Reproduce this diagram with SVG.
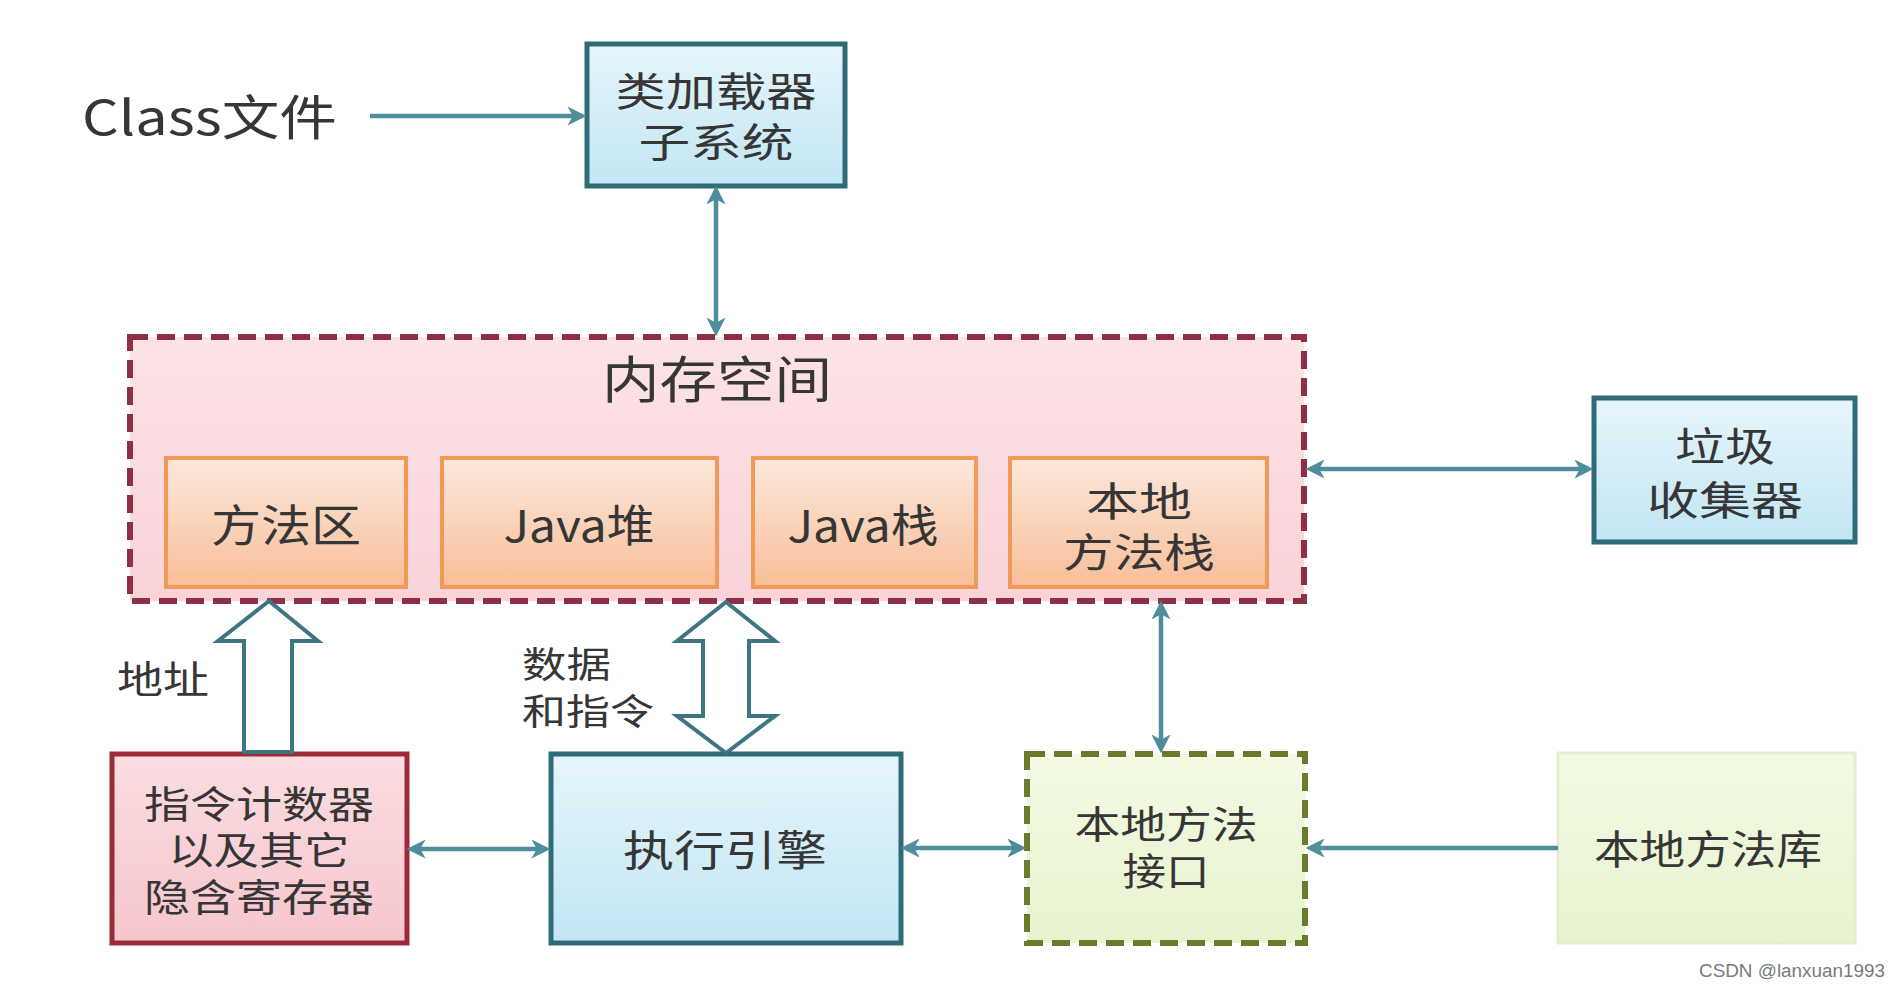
<svg xmlns="http://www.w3.org/2000/svg" width="1902" height="988" viewBox="0 0 1902 988">
<defs>
<linearGradient id="gBlue" x1="0" y1="0" x2="0" y2="1"><stop offset="0" stop-color="#E6F5FB"/><stop offset="1" stop-color="#C2E6F3"/></linearGradient>
<linearGradient id="gPink" x1="0" y1="0" x2="0" y2="1"><stop offset="0" stop-color="#FCE3E6"/><stop offset="1" stop-color="#F9D3D9"/></linearGradient>
<linearGradient id="gOrange" x1="0" y1="0" x2="0" y2="1"><stop offset="0" stop-color="#FCE8DC"/><stop offset="1" stop-color="#F8BE98"/></linearGradient>
<linearGradient id="gRed" x1="0" y1="0" x2="0" y2="1"><stop offset="0" stop-color="#FBDDE1"/><stop offset="1" stop-color="#F6C6CD"/></linearGradient>
<linearGradient id="gGreen" x1="0" y1="0" x2="0" y2="1"><stop offset="0" stop-color="#F3F9E4"/><stop offset="1" stop-color="#E7F3CF"/></linearGradient>
<marker id="ah" viewBox="0 0 14 14" refX="10" refY="7" markerWidth="19" markerHeight="19" markerUnits="userSpaceOnUse" orient="auto-start-reverse">
<path d="M0,0 L14,7 L0,14 L4,7 z" fill="#4E8E9C"/>
</marker>
<style>
.t{font-family:"Noto Sans CJK SC","Noto Sans",sans-serif;fill:#363636;text-anchor:middle}
.teal{fill:url(#gBlue);stroke:#2F6C78;stroke-width:5}
.inner{fill:url(#gOrange);stroke:#F19A58;stroke-width:4}
.conn{stroke:#4E8E9C;stroke-width:4.5;fill:none;marker-end:url(#ah)}
.both{marker-start:url(#ah)}
.hollow{fill:#FFFFFF;stroke:#3D7580;stroke-width:4;stroke-linejoin:miter}
</style>
</defs>
<rect width="1902" height="988" fill="#FFFFFF"/>

<g id="class-file">
<text class="t" x="82" y="135" font-size="48" style="text-anchor:start" textLength="255" lengthAdjust="spacingAndGlyphs">Class文件</text>
</g>

<g id="class-loader">
<rect class="teal" x="587" y="44" width="258" height="142"/>
<text class="t" x="716" y="106" font-size="40" textLength="201" lengthAdjust="spacingAndGlyphs">类加载器</text>
<text class="t" x="716" y="157" font-size="40" textLength="155" lengthAdjust="spacingAndGlyphs">子系统</text>
</g>

<g id="memory">
<rect x="130" y="337" width="1174" height="264" fill="url(#gPink)" stroke="#8E2F45" stroke-width="6" stroke-dasharray="18 9"/>
<text class="t" x="717" y="398" font-size="50" textLength="230" lengthAdjust="spacingAndGlyphs">内存空间</text>
</g>

<g id="method-area">
<rect class="inner" x="166" y="458" width="240" height="129"/>
<text class="t" x="286" y="542" font-size="44" textLength="150" lengthAdjust="spacingAndGlyphs">方法区</text>
</g>
<g id="java-heap">
<rect class="inner" x="442" y="458" width="275" height="129"/>
<text class="t" x="579" y="542" font-size="44" textLength="151" lengthAdjust="spacingAndGlyphs">Java堆</text>
</g>
<g id="java-stack">
<rect class="inner" x="753" y="458" width="223" height="129"/>
<text class="t" x="863" y="542" font-size="44" textLength="151" lengthAdjust="spacingAndGlyphs">Java栈</text>
</g>
<g id="native-stack">
<rect class="inner" x="1010" y="458" width="257" height="129"/>
<text class="t" x="1139" y="516" font-size="40" textLength="106" lengthAdjust="spacingAndGlyphs">本地</text>
<text class="t" x="1139" y="567" font-size="40" textLength="152" lengthAdjust="spacingAndGlyphs">方法栈</text>
</g>

<g id="gc">
<rect class="teal" x="1594" y="398" width="261" height="144"/>
<text class="t" x="1725" y="461" font-size="40" textLength="100" lengthAdjust="spacingAndGlyphs">垃圾</text>
<text class="t" x="1725" y="515" font-size="40" textLength="156" lengthAdjust="spacingAndGlyphs">收集器</text>
</g>

<g id="pc-register">
<rect x="112" y="754" width="295" height="189" fill="url(#gRed)" stroke="#9C2B39" stroke-width="5"/>
<text class="t" x="259" y="818" font-size="38" textLength="230" lengthAdjust="spacingAndGlyphs">指令计数器</text>
<text class="t" x="259" y="864" font-size="38" textLength="181" lengthAdjust="spacingAndGlyphs">以及其它</text>
<text class="t" x="259" y="911" font-size="38" textLength="230" lengthAdjust="spacingAndGlyphs">隐含寄存器</text>
</g>

<g id="exec-engine">
<rect class="teal" x="551" y="754" width="350" height="189"/>
<text class="t" x="725" y="866" font-size="42" textLength="204" lengthAdjust="spacingAndGlyphs">执行引擎</text>
</g>

<g id="native-interface">
<rect x="1027" y="754" width="278" height="189" fill="url(#gGreen)" stroke="#6C7A2E" stroke-width="6" stroke-dasharray="18 9"/>
<text class="t" x="1166" y="838" font-size="38" textLength="183" lengthAdjust="spacingAndGlyphs">本地方法</text>
<text class="t" x="1166" y="885" font-size="38" textLength="87" lengthAdjust="spacingAndGlyphs">接口</text>
</g>

<g id="native-library">
<rect x="1558" y="753" width="297" height="190" fill="url(#gGreen)" stroke="#E3EED0" stroke-width="3"/>
<text class="t" x="1708" y="864" font-size="40" textLength="228" lengthAdjust="spacingAndGlyphs">本地方法库</text>
</g>

<g id="connectors">
<line class="conn" x1="370" y1="116" x2="581" y2="116"/>
<line class="conn both" x1="716" y1="191" x2="716" y2="331"/>
<line class="conn both" x1="1311" y1="469" x2="1588" y2="469"/>
<line class="conn both" x1="412" y1="849" x2="545" y2="849"/>
<line class="conn both" x1="906" y1="848" x2="1021" y2="848"/>
<line class="conn" x1="1558" y1="848" x2="1311" y2="848"/>
<line class="conn both" x1="1161" y1="606" x2="1161" y2="748"/>
<polygon class="hollow" points="269,601 318,641 292,641 292,752 244,752 244,641 218,641"/>
<polygon class="hollow" points="726,602 775,641 749,641 749,716 775,716 726,753 677,716 703,716 703,641 677,641"/>
</g>

<g id="labels">
<text class="t" x="163" y="693" font-size="38" textLength="92" lengthAdjust="spacingAndGlyphs">地址</text>
<text class="t" x="522" y="678" font-size="36" style="text-anchor:start" textLength="89" lengthAdjust="spacingAndGlyphs">数据</text>
<text class="t" x="522" y="725" font-size="36" style="text-anchor:start" textLength="132" lengthAdjust="spacingAndGlyphs">和指令</text>
<text x="1699" y="977" font-family="'Liberation Sans',sans-serif" font-size="18" fill="#7A7A7A" textLength="186" lengthAdjust="spacingAndGlyphs">CSDN @lanxuan1993</text>
</g>
</svg>
